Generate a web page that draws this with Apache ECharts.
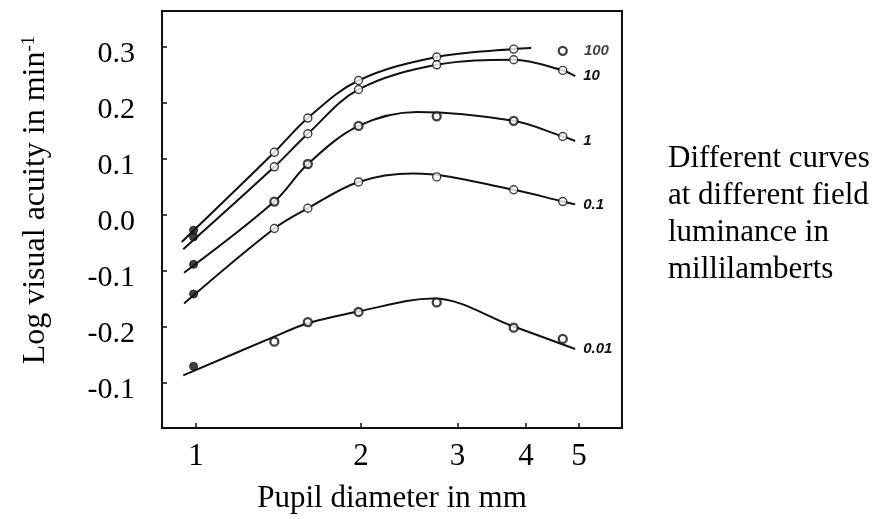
<!DOCTYPE html>
<html>
<head>
<meta charset="utf-8">
<script src="https://cdn.jsdelivr.net/npm/echarts@6/dist/echarts.min.js"></script>
<style>
html,body{margin:0;padding:0;background:#fff;}
#chart{width:883px;height:519px;}
</style>
</head>
<body>
<div id="chart"></div>
<script>
// ---- data ----
const xTickValues = [1, 2, 3, 4, 5];
const yTickValues = [0.3, 0.2, 0.1, 0.0, -0.1, -0.2, -0.3];
const yTickLabels = ['0.3', '0.2', '0.1', '0.0', '-0.1', '-0.2', '-0.1'];
const luminanceLabels = ['100', '10', '1', '0.1', '0.01'];

// fitted curves (pupil diameter mm, log visual acuity)
const curve100 = [[0.942,-0.048],[1.39,0.112],[1.6,0.173],[1.98,0.240],[2.75,0.282],[3.8,0.296],[4.09,0.298]];
const curve10  = [[0.948,-0.061],[1.39,0.086],[1.6,0.145],[1.98,0.224],[2.75,0.268],[3.8,0.277],[4.67,0.258],[4.92,0.248]];
const curve1   = [[0.951,-0.103],[1.39,0.024],[1.6,0.091],[1.98,0.159],[2.53,0.184],[3.8,0.168],[4.67,0.140],[4.92,0.132]];
const curve01  = [[0.951,-0.158],[1.39,-0.024],[1.6,0.012],[1.98,0.059],[2.49,0.074],[3.8,0.045],[4.67,0.024],[4.92,0.019]];
const curve001 = [[0.948,-0.286],[1.39,-0.217],[1.6,-0.193],[1.98,-0.172],[2.71,-0.149],[3.8,-0.199],[4.92,-0.239]];

// measured points
const points100 = [[0.99,-0.027],[1.39,0.112],[1.6,0.173],[1.98,0.240],[2.75,0.282],[3.8,0.296],[4.67,0.293]];
const points10  = [[0.99,-0.039],[1.39,0.086],[1.6,0.145],[1.98,0.224],[2.75,0.268],[3.8,0.277],[4.67,0.258]];
const points1   = [[0.99,-0.088],[1.39,0.024],[1.6,0.091],[1.98,0.159],[2.75,0.176],[3.8,0.168],[4.67,0.140]];
const points01  = [[0.99,-0.141],[1.39,-0.024],[1.6,0.012],[1.98,0.059],[2.75,0.068],[3.8,0.045],[4.67,0.024]];
const points001 = [[0.99,-0.270],[1.39,-0.226],[1.6,-0.191],[1.98,-0.173],[2.75,-0.156],[3.8,-0.201],[4.67,-0.221]];

const kinds100 = ['filled','open','open','open','open','open','half'];
const kinds10  = ['filled','open','open','open','open','open','open'];
const kinds1   = ['filled','half','half','half','half','half','open'];
const kinds01  = ['filled','open','open','open','open','open','open'];
const kinds001 = ['filled','half','half','half','half','half','half'];

// ---- build chart ----
const curves = [curve100, curve10, curve1, curve01, curve001];
const points = [points100, points10, points1, points01, points001];
const kinds = [kinds100, kinds10, kinds1, kinds01, kinds001];

const labelFont = {
  fontFamily: 'Liberation Sans', fontStyle: 'italic', fontWeight: 'bold',
  fontSize: 15, color: '#111'
};

function markerStyle(kind) {
  if (kind === 'filled') return { color: '#111', borderColor: '#111', borderWidth: 1 };
  if (kind === 'half') return { color: '#fff', borderColor: '#111', borderWidth: 2.3 };
  return { color: '#fff', borderColor: '#111', borderWidth: 1.4 };
}

const series = [];
curves.forEach((c, i) => {
  const hasEndLabel = i !== 0;
  series.push({
    type: 'line',
    data: c,
    smooth: 0.35,
    showSymbol: false,
    silent: true,
    z: 2,
    lineStyle: { color: '#111', width: 2 },
    endLabel: hasEndLabel ? Object.assign({
      show: true, distance: 8, formatter: luminanceLabels[i]
    }, labelFont) : { show: false }
  });
  series.push({
    type: 'scatter',
    z: 3,
    symbol: 'circle',
    symbolSize: 8,
    data: points[i].map((p, j) => {
      const item = { value: p, itemStyle: markerStyle(kinds[i][j]) };
      if (i === 0 && j === points[i].length - 1) {
        item.label = Object.assign({
          show: true, position: 'right', distance: 16, formatter: luminanceLabels[0]
        }, labelFont);
      }
      return item;
    })
  });
});

const chart = echarts.init(document.getElementById('chart'), null, { renderer: 'canvas' });
chart.setOption({
  animation: false,
  backgroundColor: '#fff',
  grid: {
    left: 162, top: 11, right: 261, bottom: 91,
    show: true, borderColor: '#111', borderWidth: 2, backgroundColor: 'transparent'
  },
  xAxis: {
    type: 'log',
    logBase: 10,
    min: 0.867,
    max: 5.99,
    name: 'Pupil diameter in mm',
    nameLocation: 'middle',
    nameGap: 55,
    nameTextStyle: { fontFamily: 'Liberation Serif', fontSize: 31, color: '#000' },
    axisLine: { show: true, onZero: false, lineStyle: { color: '#111', width: 2 } },
    axisTick: { show: true, inside: true, length: 5, customValues: xTickValues, lineStyle: { color: '#111', width: 1.5 } },
    axisLabel: {
      customValues: xTickValues, margin: 13,
      fontFamily: 'Liberation Serif', fontSize: 31, color: '#000',
      formatter: v => String(Math.round(v))
    },
    splitLine: { show: false },
    minorTick: { show: false }
  },
  yAxis: {
    type: 'value',
    min: -0.38,
    max: 0.364,
    axisLine: { show: true, onZero: false, lineStyle: { color: '#111', width: 2 } },
    axisTick: { show: true, inside: true, length: 5, customValues: yTickValues, lineStyle: { color: '#111', width: 1.5 } },
    axisLabel: {
      customValues: yTickValues, margin: 27,
      fontFamily: 'Liberation Serif', fontSize: 30, color: '#000',
      rich: {
        t: { fontFamily: 'Liberation Serif', fontSize: 30, color: '#000', padding: [14, 0, 0, 0] }
      },
      formatter: v => {
        const k = yTickValues.findIndex(t => Math.abs(t - v) < 1e-6);
        return k >= 0 ? '{t|' + yTickLabels[k] + '}' : '';
      }
    },
    splitLine: { show: false }
  },
  graphic: [
    {
      type: 'text',
      x: 36, y: 200,
      rotation: Math.PI / 2,
      style: {
        text: 'Log visual acuity in min{sup|-1}',
        fontFamily: 'Liberation Serif', fontSize: 32, fill: '#000',
        align: 'center', verticalAlign: 'middle',
        rich: {
          sup: { fontFamily: 'Liberation Serif', fontSize: 19, verticalAlign: 'top', fill: '#000' }
        }
      }
    },
    {
      type: 'text',
      left: 668, top: 141,
      style: {
        text: 'Different curves\nat different field\nluminance in\nmillilamberts',
        fontFamily: 'Liberation Serif', fontSize: 31, lineHeight: 36.7, fill: '#000'
      }
    }
  ],
  series: series
});
</script>
</body>
</html>
